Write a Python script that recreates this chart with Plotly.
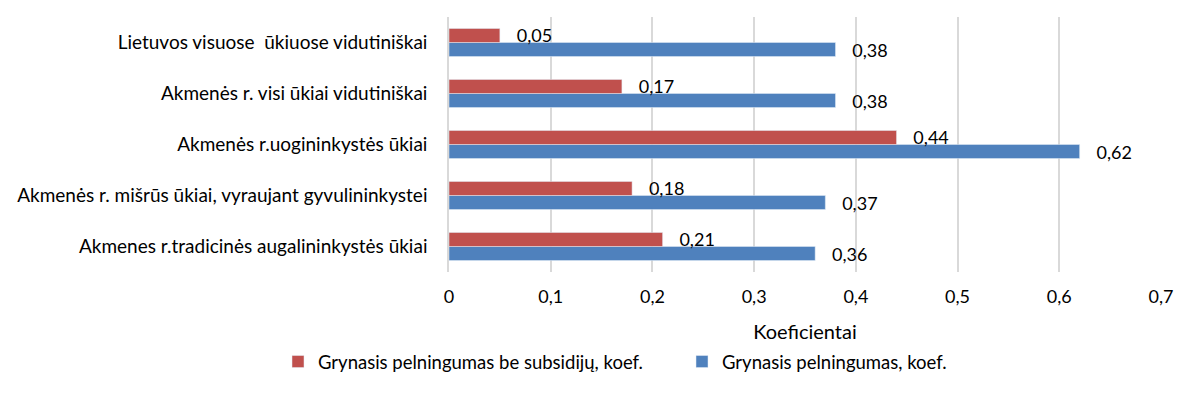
import plotly.graph_objects as go

categories = [
    "Lietuvos visuose  ūkiuose vidutiniškai",
    "Akmenės r. visi ūkiai vidutiniškai",
    "Akmenės r.uogininkystės ūkiai",
    "Akmenės r. mišrūs ūkiai, vyraujant gyvulininkystei",
    "Akmenes r.tradicinės augalininkystės ūkiai",
]
be_subsidiju = [0.05, 0.17, 0.44, 0.18, 0.21]
pelningumas = [0.38, 0.38, 0.62, 0.37, 0.36]
x_ticks = [0, 0.1, 0.2, 0.3, 0.4, 0.5, 0.6, 0.7]
x_tick_text = ["0", "0,1", "0,2", "0,3", "0,4", "0,5", "0,6", "0,7"]

FONT = "Lato"
NB = "\u00a0"


def lbl(vals):
    return [NB * 3 + f"{v:.2f}".replace(".", ",") for v in vals]


fig = go.Figure()
# blue first -> lower bar in each group; red drawn last so its labels stay on top
fig.add_trace(go.Bar(
    y=categories, x=pelningumas, orientation="h",
    name="Grynasis pelningumas, koef.", legend="legend2",
    marker=dict(color="#4F81BD"),
    text=lbl(pelningumas), texttemplate="%{text}", textposition="outside",
    constraintext="none",
    textfont=dict(size=18, color="#000000", family=FONT), cliponaxis=False,
))
fig.add_trace(go.Bar(
    y=categories, x=be_subsidiju, orientation="h",
    name="Grynasis pelningumas be subsidijų, koef.", legend="legend",
    marker=dict(color="#C0504D"),
    text=lbl(be_subsidiju), texttemplate="%{text}", textposition="outside",
    constraintext="none",
    textfont=dict(size=18, color="#000000", family=FONT), cliponaxis=False,
))

W, H = 1192, 387
leg_y = 1 - (362 - 8) / H
fig.update_layout(
    width=W, height=H,
    barmode="group", bargap=0.45, bargroupgap=0,
    plot_bgcolor="white", paper_bgcolor="white",
    font=dict(family=FONT, size=18, color="#000000"),
    margin=dict(l=441, r=39, t=9, b=123, autoexpand=False),
    xaxis=dict(
        range=[0, 0.7], tickvals=x_ticks, ticktext=x_tick_text,
        showgrid=True, gridcolor="#D9D9D9", gridwidth=1.5,
        zeroline=False, ticks="", ticklabelstandoff=12, automargin=False,
        tickfont=dict(size=18),
        title=dict(text="Koeficientai", font=dict(size=20), standoff=30),
    ),
    yaxis=dict(
        categoryorder="array", categoryarray=categories[::-1],
        showline=True, linecolor="#D9D9D9", linewidth=1.5,
        ticks="", ticklabelstandoff=16, automargin=False,
        tickfont=dict(size=19),
    ),
    legend=dict(
        orientation="h", xref="container", x=270 / W, xanchor="left",
        yref="container", y=leg_y, yanchor="middle",
        font=dict(size=18.5), itemwidth=30, bgcolor="rgba(0,0,0,0)",
    ),
    legend2=dict(
        orientation="h", xref="container", x=674 / W, xanchor="left",
        yref="container", y=leg_y, yanchor="middle",
        font=dict(size=18.5), itemwidth=30, bgcolor="rgba(0,0,0,0)",
    ),
    showlegend=True,
)

fig.write_html("out.html")
